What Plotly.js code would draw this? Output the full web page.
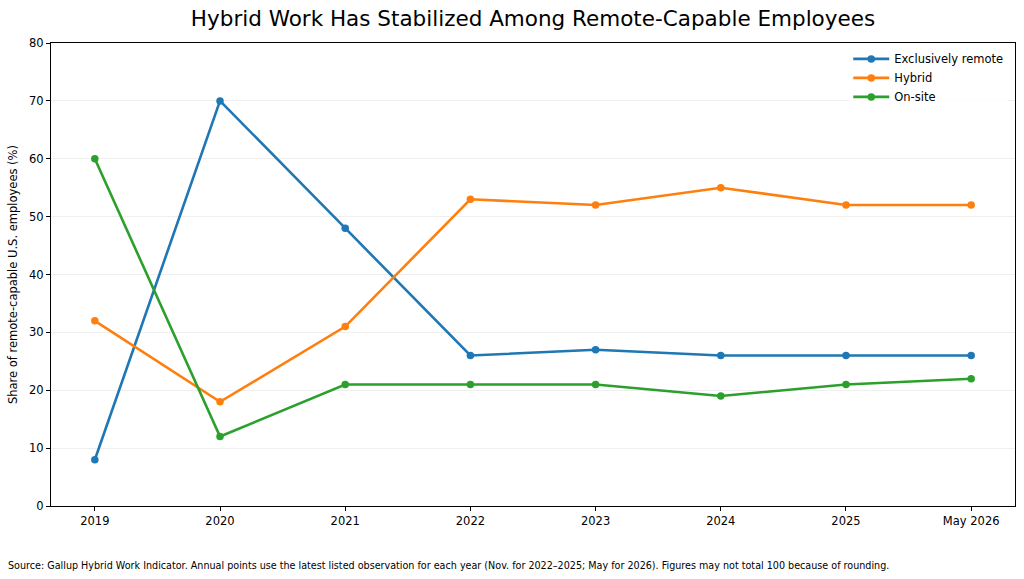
<!DOCTYPE html>
<html>
<head>
<meta charset="utf-8">
<script src="https://cdn.plot.ly/plotly-3.0.1.min.js"></script>
<style>
  html, body { margin: 0; padding: 0; background: #fff; }
  #chart { width: 1024px; height: 579px; }
</style>
</head>
<body>
<div id="chart"></div>
<script>
// Gallup hybrid work indicator, share of remote-capable employees (%)
const years = ['2019', '2020', '2021', '2022', '2023', '2024', '2025', 'May 2026'];
const remoteVals = [8, 70, 48, 26, 27, 26, 26, 26];
const hybridVals = [32, 18, 31, 53, 52, 55, 52, 52];
const onsiteVals = [60, 12, 21, 21, 21, 19, 21, 22];
const yTicks = [0, 10, 20, 30, 40, 50, 60, 70, 80];

const seriesNames = ['Exclusively remote', 'Hybrid', 'On-site'];
const seriesColors = ['#1f77b4', '#ff7f0e', '#2ca02c'];
const seriesVals = [remoteVals, hybridVals, onsiteVals];

const xIdx = years.map((_, i) => i);

const traces = seriesVals.map((vals, i) => ({
    x: xIdx,
    y: vals,
    type: 'scatter',
    mode: 'lines+markers',
    name: seriesNames[i],
    line: { color: seriesColors[i], width: 2.6 },
    marker: { color: seriesColors[i], size: 7.5 }
}));

const font = 'DejaVu Sans, sans-serif';

const layout = {
    width: 1024,
    height: 579,
    paper_bgcolor: '#fff',
    plot_bgcolor: '#fff',
    font: { family: font, size: 12, color: '#000' },
    margin: { l: 51, r: 9, t: 43, b: 73 },
    title: {
        text: 'Hybrid Work Has Stabilized Among Remote-Capable Employees',
        font: { family: font, size: 21.5, color: '#000' },
        xref: 'paper', x: 0.5, xanchor: 'center',
        y: 0.968, yanchor: 'middle'
    },
    xaxis: {
        range: [-0.35, 7.35],
        tickmode: 'array',
        tickvals: xIdx,
        ticktext: years,
        ticks: 'outside', ticklen: 4, tickcolor: '#000',
        showgrid: false, zeroline: false,
        showline: true, linecolor: '#000', linewidth: 1, mirror: true,
        tickfont: { family: font, size: 11.5, color: '#000' }
    },
    yaxis: {
        range: [0, 80],
        tickmode: 'array',
        tickvals: yTicks,
        ticks: 'outside', ticklen: 4, tickcolor: '#000',
        showgrid: true, gridcolor: '#ebebeb', gridwidth: 0.8,
        zeroline: false,
        showline: true, linecolor: '#000', linewidth: 1, mirror: true,
        tickfont: { family: font, size: 11.5, color: '#000' },
        title: {
            text: 'Share of remote-capable U.S. employees (%)',
            font: { family: font, size: 11.5, color: '#000' },
            standoff: 9
        }
    },
    showlegend: true,
    legend: {
        x: 0.993, xanchor: 'right',
        y: 0.997, yanchor: 'top',
        bgcolor: 'rgba(255,255,255,0.8)',
        borderwidth: 0,
        font: { family: font, size: 11.5, color: '#000' },
        tracegroupgap: 0,
        itemwidth: 36
    },
    annotations: [{
        text: 'Source: Gallup Hybrid Work Indicator. Annual points use the latest listed observation for each year (Nov. for 2022–2025; May for 2026). Figures may not total 100 because of rounding.',
        xref: 'paper', yref: 'paper',
        x: -0.0465, xanchor: 'left',
        y: -0.128, yanchor: 'middle',
        showarrow: false,
        font: { family: font, size: 9.6, color: '#000' }
    }]
};

Plotly.newPlot('chart', traces, layout, { displayModeBar: false, staticPlot: true });
</script>
</body>
</html>
